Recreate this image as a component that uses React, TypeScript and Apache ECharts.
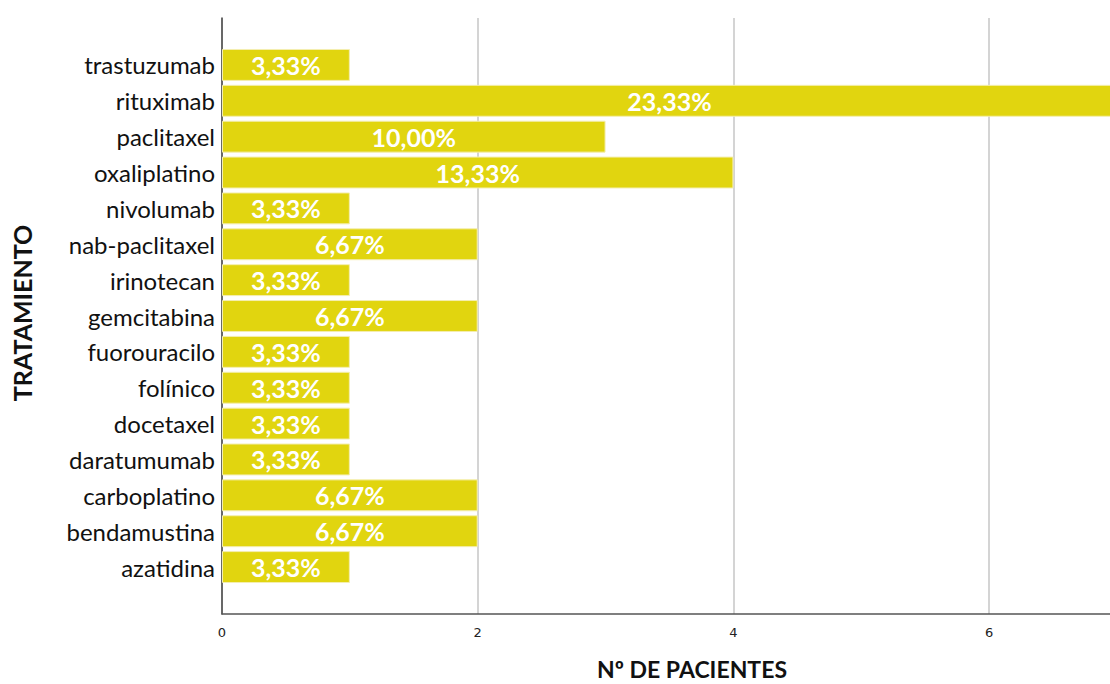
import React, { useEffect, useRef } from "react";
import * as echarts from "echarts";

const categories = [
  "azatidina", "bendamustina", "carboplatino", "daratumumab", "docetaxel",
  "folínico", "fuorouracilo", "gemcitabina", "irinotecan", "nab-paclitaxel",
  "nivolumab", "oxaliplatino", "paclitaxel", "rituximab", "trastuzumab",
];
const patients = [1, 2, 2, 1, 1, 1, 1, 2, 1, 2, 1, 4, 3, 7, 1];
const percentLabels = [
  "3,33%", "6,67%", "6,67%", "3,33%", "3,33%", "3,33%", "3,33%", "6,67%",
  "3,33%", "6,67%", "3,33%", "13,33%", "10,00%", "23,33%", "3,33%",
];
const xTicks = [0, 2, 4, 6];

const FONT = "Lato, 'Open Sans', sans-serif";

export default function App() {
  const ref = useRef<HTMLDivElement>(null);
  useEffect(() => {
    const chart = echarts.init(ref.current!, undefined, { renderer: "svg" });
    chart.setOption({
      animation: false,
      backgroundColor: "#ffffff",
      grid: [
        { left: 222, width: 895, top: 18, bottom: 70, containLabel: false, outerBoundsMode: "none" },
        { left: 222, width: 895, top: 47, bottom: 99, containLabel: false, outerBoundsMode: "none" },
      ],
      xAxis: [
        {
          gridIndex: 0,
          type: "value",
          min: 0,
          max: 7,
          interval: 2,
          axisLine: { show: true, lineStyle: { color: "#555555", width: 1.5 } },
          axisTick: { show: false },
          splitLine: { show: true, lineStyle: { color: "#c6c6c6", width: 1.5 } },
          axisLabel: {
            color: "#222222",
            fontSize: 13,
            fontFamily: "'DejaVu Sans', sans-serif",
            margin: 12,
            showMaxLabel: false,
            formatter: (v: number) => (xTicks.includes(v) ? String(v) : ""),
          },
        },
        {
          gridIndex: 1,
          type: "value",
          min: 0,
          max: 7,
          show: false,
        },
      ],
      yAxis: [
        {
          gridIndex: 0,
          type: "value",
          min: 0,
          max: 1,
          axisLine: { show: true, lineStyle: { color: "#444444", width: 1.5 } },
          axisTick: { show: false },
          axisLabel: { show: false },
          splitLine: { show: false },
        },
        {
          gridIndex: 1,
          type: "category",
          data: categories,
          axisLine: { show: false },
          axisTick: { show: false },
          axisLabel: {
            color: "#111111",
            fontSize: 24,
            fontFamily: FONT,
            margin: 7,
          },
        },
      ],
      series: [
        {
          type: "bar",
          xAxisIndex: 1,
          yAxisIndex: 1,
          data: patients,
          barCategoryGap: "11%",
          itemStyle: { color: "#e1d50f", borderColor: "#f4eeb0", borderWidth: 1 },
          label: {
            show: true,
            position: "inside",
            color: "#ffffff",
            fontSize: 25,
            fontWeight: "bold",
            fontFamily: FONT,
            formatter: (p: any) => percentLabels[p.dataIndex],
          },
        },
      ],
      graphic: [
        {
          type: "text",
          x: 692,
          y: 669,
          style: {
            text: "Nº DE PACIENTES",
            fontSize: 23,
            fontWeight: "bold",
            fontFamily: FONT,
            fill: "#111111",
            align: "center",
            verticalAlign: "middle",
          },
        },
        {
          type: "text",
          x: 22,
          y: 313,
          rotation: Math.PI / 2,
          style: {
            text: "TRATAMIENTO",
            fontSize: 25,
            fontWeight: "bold",
            fontFamily: FONT,
            fill: "#111111",
            align: "center",
            verticalAlign: "middle",
          },
        },
      ],
    });
    return () => chart.dispose();
  }, []);
  return (
    <div
      ref={ref}
      style={{ position: "absolute", left: 0, top: 0, width: 1110, height: 684 }}
    />
  );
}
